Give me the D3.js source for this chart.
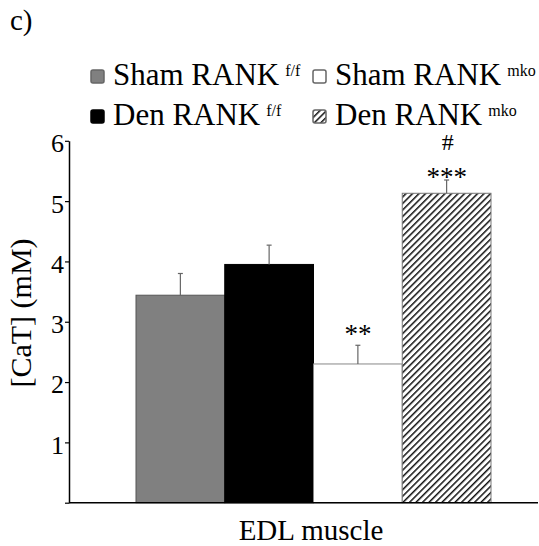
<!DOCTYPE html>
<html>
<head>
<meta charset="utf-8">
<script src="https://cdn.jsdelivr.net/npm/d3@7"></script>
<style>
  body { margin: 0; background: #fff; }
  svg { display: block; font-family: "Liberation Serif", "Times New Roman", serif; }
</style>
</head>
<body>
<svg id="chart" width="539" height="546"></svg>
<script>
const names = ['Sham RANK', 'Den RANK', 'Sham RANK', 'Den RANK'];
const sups = ['f/f', 'f/f', 'mko', 'mko'];
const means = [3.44, 3.95, 2.30, 5.13];
const errs = [0.36, 0.32, 0.31, 0.22];
const stars = ['', '', '**', '***'];
const hashes = ['', '', '', '#'];
const yTicks = [0, 1, 2, 3, 4, 5, 6];

const fills = ['#808080', '#000', '#fff', 'url(#hatch)'];
const strokes = ['#555', '#000', '#888', '#777'];
// gap between error cap and the star baseline
const starGap = [0, 0, 2, -6];

const svg = d3.select('#chart');

const defs = svg.append('defs');
const pat = defs.append('pattern')
  .attr('id', 'hatch')
  .attr('patternUnits', 'userSpaceOnUse')
  .attr('width', 4.6)
  .attr('height', 4.6)
  .attr('patternTransform', 'rotate(45)');
pat.append('rect').attr('width', 4.6).attr('height', 4.6).attr('fill', '#fff');
pat.append('line')
  .attr('x1', 0).attr('y1', 0).attr('x2', 0).attr('y2', 4.6)
  .attr('stroke', '#111').attr('stroke-width', 3);

const x = d3.scaleBand()
  .domain(d3.range(means.length))
  .range([136, 491])
  .padding(0);

const y = d3.scaleLinear()
  .domain([0, 6])
  .range([502.7, 140.8]);

// panel letter
svg.append('text')
  .attr('x', 10).attr('y', 30)
  .attr('font-size', 29)
  .text('c)');

// bars
svg.selectAll('rect.bar')
  .data(means)
  .enter()
  .append('rect')
  .attr('class', 'bar')
  .attr('x', (d, i) => x(i))
  .attr('width', x.bandwidth())
  .attr('y', d => y(d))
  .attr('height', d => y(0) - y(d))
  .attr('fill', (d, i) => fills[i])
  .attr('stroke', (d, i) => strokes[i])
  .attr('stroke-width', 1);

// error bars (upper only)
const eb = svg.selectAll('g.err')
  .data(means)
  .enter()
  .append('g')
  .attr('class', 'err')
  .attr('stroke', '#666')
  .attr('stroke-width', 1.2);
eb.append('line')
  .attr('x1', (d, i) => x(i) + x.bandwidth() / 2)
  .attr('x2', (d, i) => x(i) + x.bandwidth() / 2)
  .attr('y1', d => y(d))
  .attr('y2', (d, i) => y(d + errs[i]));
eb.append('line')
  .attr('x1', (d, i) => x(i) + x.bandwidth() / 2 - 2.5)
  .attr('x2', (d, i) => x(i) + x.bandwidth() / 2 + 2.5)
  .attr('y1', (d, i) => y(d + errs[i]))
  .attr('y2', (d, i) => y(d + errs[i]));

// significance marks
svg.selectAll('text.star')
  .data(means)
  .enter()
  .append('text')
  .attr('class', 'star')
  .attr('text-anchor', 'middle')
  .attr('font-size', 27)
  .attr('x', (d, i) => x(i) + x.bandwidth() / 2)
  .attr('y', (d, i) => y(d + errs[i]) - starGap[i])
  .text((d, i) => stars[i]);

svg.selectAll('text.hash')
  .data(means)
  .enter()
  .append('text')
  .attr('class', 'hash')
  .attr('text-anchor', 'middle')
  .attr('font-size', 24)
  .attr('x', (d, i) => x(i) + x.bandwidth() / 2 + 1)
  .attr('y', (d, i) => y(d + errs[i]) - 30)
  .text((d, i) => hashes[i]);

// y axis
const yAxis = d3.axisLeft(y)
  .tickValues(yTicks)
  .tickSize(4)
  .tickSizeOuter(0)
  .tickPadding(1)
  .tickFormat(d => d === 0 ? '' : d);

const ga = svg.append('g')
  .attr('transform', 'translate(69,0)')
  .call(yAxis);
ga.select('.domain').attr('stroke', '#000').attr('stroke-width', 1.5);
ga.selectAll('.tick line').attr('stroke', '#000').attr('stroke-width', 1.2);
ga.selectAll('.tick text')
  .attr('font-family', '"Liberation Serif", "Times New Roman", serif')
  .attr('font-size', 26)
  .attr('fill', '#000')
  .attr('dy', '0.42em');

// x baseline
svg.append('line')
  .attr('x1', 69).attr('x2', 538)
  .attr('y1', y(0)).attr('y2', y(0))
  .attr('stroke', '#000').attr('stroke-width', 1.5);

// axis titles
svg.append('text')
  .attr('text-anchor', 'middle')
  .attr('font-size', 29)
  .attr('x', 311).attr('y', 540)
  .text('EDL muscle');

svg.append('text')
  .attr('text-anchor', 'middle')
  .attr('font-size', 30)
  .attr('transform', 'translate(31,313) rotate(-90)')
  .text('[CaT] (mM)');

// legend
const legX = [91, 313];
const legY = [70, 110];
const leg = svg.selectAll('g.leg')
  .data(means)
  .enter()
  .append('g')
  .attr('class', 'leg')
  .attr('transform', (d, i) => `translate(${legX[Math.floor(i / 2)]},${legY[i % 2]})`);
leg.append('rect')
  .attr('x', 0).attr('y', 0)
  .attr('width', 13).attr('height', 13)
  .attr('rx', 2)
  .attr('fill', (d, i) => fills[i])
  .attr('stroke', (d, i) => i === 1 ? '#000' : '#666')
  .attr('stroke-width', 1.5);
const lt = leg.append('text')
  .attr('x', 22)
  .attr('y', 15)
  .attr('font-size', 31);
lt.append('tspan').text((d, i) => names[i]);
lt.append('tspan')
  .attr('dx', 6)
  .attr('dy', -9)
  .attr('font-size', 16)
  .text((d, i) => sups[i]);
</script>
</body>
</html>
